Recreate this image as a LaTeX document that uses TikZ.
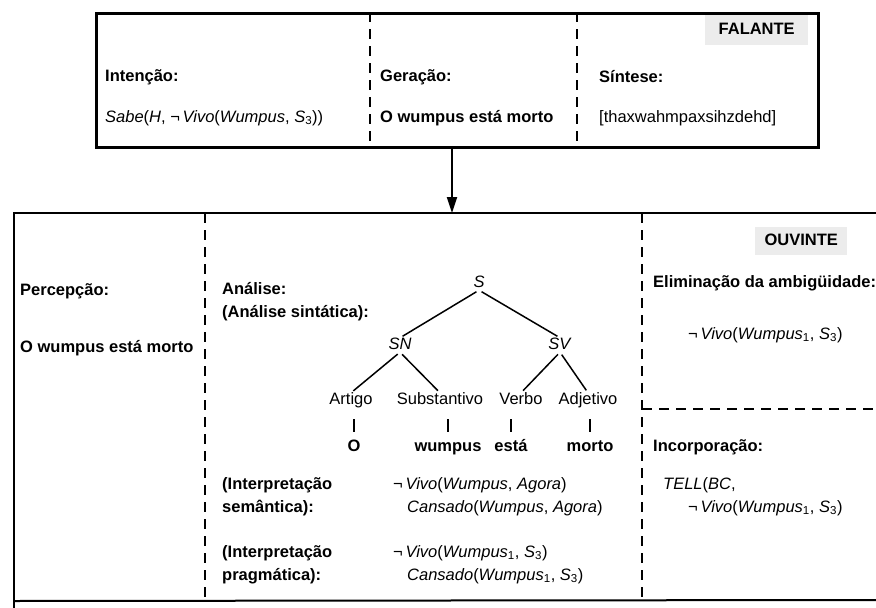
\documentclass[tikz,border=0pt]{standalone}
\usepackage{fontspec}
\setmainfont{Liberation Sans}
\usetikzlibrary{arrows.meta,calc}
\begin{document}
\begin{tikzpicture}[x=1pt,y=-1pt,
  txt/.style={inner sep=0pt,anchor=west,text height=11pt,text depth=3pt,font=\fontsize{16.5}{20}\selectfont},
  ctxt/.style={txt,anchor=center},
  lbl/.style={txt,font=\fontsize{16.5}{20}\selectfont\bfseries},
  clbl/.style={lbl,anchor=center},
  frame/.style={line width=2.6pt},
  divider/.style={line width=1.8pt,dash pattern=on 10pt off 7pt},
  branch/.style={line width=1.5pt,shorten <=3pt,shorten >=3pt},
  bar/.style={line width=1.5pt,shorten <=12pt,shorten >=8pt},
  tag/.style={fill=gray!15,draw=none}]
\useasboundingbox (0,0) rectangle (876,608);
% ---------- speaker box ----------
\node[draw,frame,minimum width=722pt,minimum height=134pt,inner sep=0pt,anchor=north west] (fal) at (95,12) {};
\coordinate (d1t) at (370,12); \coordinate (d1b) at (370,146);
\coordinate (d2t) at (577,12); \coordinate (d2b) at (577,146);
\draw[divider] (d1t) -- (d1b);
\draw[divider] (d2t) -- (d2b);
\node[tag,minimum width=103pt,minimum height=30pt,anchor=north west] (faltag) at (705,15) {};
\node[clbl] (falante) at (faltag.center) {FALANTE};
\node[lbl] (int) at (105,77) {Intenção:};
\node[txt] (intf) at (105,118) {\textit{Sabe}(\textit{H}, ¬\,\textit{Vivo}(\textit{Wumpus}, \textit{S}\textsubscript{3}))};
\node[lbl] (ger) at (380,77) {Geração:};
\node[lbl] (gerf) at (380,118) {O wumpus está morto};
\node[lbl] (sin) at (599,78) {Síntese:};
\node[txt] (sinf) at (599,118) {[thaxwahmpaxsihzdehd]};
% ---------- hearer box ----------
\coordinate (bl) at (14,608);
\coordinate (tl) at (14,213);
\coordinate (tr) at (876,213);
\coordinate (br) at (876,600);
\coordinate (bb) at (14,601);
\draw[frame] (bl) -- (tl) -- (tr);
\draw[line width=2pt] (bb) -- (br);
\coordinate (arrEnd) at (452,213);
\draw[line width=1.8pt,-{Triangle[width=10pt,length=16pt]}] (fal.south -| arrEnd) -- (arrEnd);
\coordinate (e1t) at (205,213); \coordinate (e1b) at (205,600);
\coordinate (e2t) at (642,213); \coordinate (e2b) at (642,600);
\coordinate (h1) at (642,409); \coordinate (h2) at (876,409);
\draw[divider] (e1t) -- (e1b);
\draw[divider] (e2t) -- (e2b);
\draw[divider] (h1) -- (h2);
\node[tag,minimum width=92pt,minimum height=28pt,anchor=north west] (ouvtag) at (755,227) {};
\node[clbl] (ouvinte) at (ouvtag.center) {OUVINTE};
% left column
\node[lbl] (per) at (20,291) {Percepção:};
\node[lbl] (perf) at (20,348) {O wumpus está morto};
% middle column
\node[lbl] (ana) at (222,290) {Análise:};
\node[lbl] (ana2) at (222,313) {(Análise sintática):};
\node[ctxt] (S) at (479,283) {\textit{S}};
\node[ctxt] (SN) at (400,345) {\textit{SN}};
\node[ctxt] (SV) at (560,345) {\textit{SV}};
\node[ctxt] (art) at (351,400) {Artigo};
\node[ctxt] (sub) at (440,400) {Substantivo};
\node[ctxt] (ver) at (521,400) {Verbo};
\node[ctxt] (adj) at (588,400) {Adjetivo};
\node[clbl] (wO) at (354,447) {O};
\node[clbl] (wW) at (448,447) {wumpus};
\node[clbl] (wE) at (511,447) {está};
\node[clbl] (wM) at (590,447) {morto};
\draw[branch] (S.south) -- (SN.north);
\draw[branch] (S.south) -- (SV.north);
\draw[branch] (SN.south) -- (art.north);
\draw[branch] (SN.south) -- (sub.north);
\draw[branch] (SV.south) -- (ver.north);
\draw[branch] (SV.south) -- (adj.north);
\draw[bar] (art.south -| wO) -- (wO.north);
\draw[bar] (sub.south -| wW) -- (wW.north);
\draw[bar] (ver.south -| wE) -- (wE.north);
\draw[bar] (adj.south -| wM) -- (wM.north);
\node[lbl] (sem1) at (222,485) {(Interpretação};
\node[lbl] (sem2) at (222,508) {semântica):};
\node[txt] (semf1) at (393,485) {¬\,\textit{Vivo}(\textit{Wumpus}, \textit{Agora})};
\node[txt] (semf2) at (407,508) {\textit{Cansado}(\textit{Wumpus}, \textit{Agora})};
\node[lbl] (pra1) at (222,553) {(Interpretação};
\node[lbl] (pra2) at (222,576) {pragmática):};
\node[txt] (praf1) at (393,553) {¬\,\textit{Vivo}(\textit{Wumpus}\textsubscript{1}, \textit{S}\textsubscript{3})};
\node[txt] (praf2) at (407,576) {\textit{Cansado}(\textit{Wumpus}\textsubscript{1}, \textit{S}\textsubscript{3})};
% right column
\node[lbl] (eli) at (653,283) {Eliminação da ambigüidade:};
\node[txt] (elif) at (688,335) {¬\,\textit{Vivo}(\textit{Wumpus}\textsubscript{1}, \textit{S}\textsubscript{3})};
\node[lbl] (inc) at (653,447) {Incorporação:};
\node[txt] (incf1) at (663,485) {\textit{TELL}(\textit{BC},};
\node[txt] (incf2) at (688,508) {¬\,\textit{Vivo}(\textit{Wumpus}\textsubscript{1}, \textit{S}\textsubscript{3})};
\end{tikzpicture}
\end{document}
